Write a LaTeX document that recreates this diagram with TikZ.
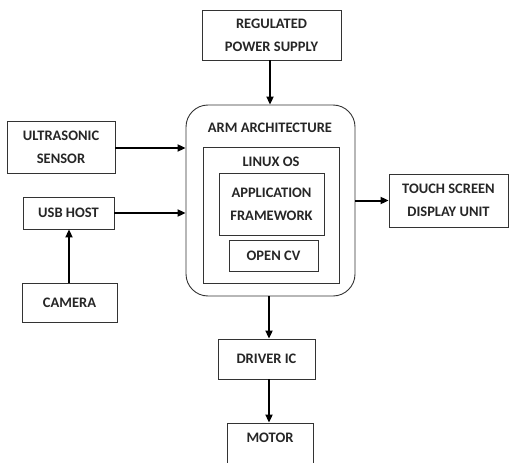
\documentclass[tikz,border=0pt]{standalone}
\usepackage{fontspec}
\setmainfont{Carlito}
\usetikzlibrary{arrows.meta}
\begin{document}
\begin{tikzpicture}[x=1pt,y=-1pt,
  box/.style={draw=black!80,line width=0.9pt,inner sep=0pt,align=center,
    font=\bfseries\fontsize{14.5}{23}\selectfont,text=black!85},
  lbl/.style={inner sep=0pt,font=\bfseries\fontsize{14.5}{23}\selectfont,text=black!85},
  arr/.style={line width=2pt,-{Triangle[length=8pt,width=7pt]}}]
\useasboundingbox (0,0) rectangle (510,462);
\clip (0,0) rectangle (510,462);

% supply and processor
\node[box,minimum width=139,minimum height=50] (power) at (271.5,35) {REGULATED\\POWER SUPPLY};
\node[box,minimum width=169,minimum height=191,rounded corners=22pt] (arm) at (270.5,200.5) {};
\node[lbl] (armlbl) at (270,128) {ARM ARCHITECTURE};
\node[box,minimum width=136,minimum height=136] (linux) at (271,215) {};
\node[lbl] (linuxlbl) at (271,162) {LINUX OS};
\node[box,minimum width=105,minimum height=62] (app) at (271.5,204) {APPLICATION\\FRAMEWORK};
\node[box,minimum width=89,minimum height=31] (cv) at (273.5,255.5) {OPEN CV};

% peripherals
\node[box,minimum width=119,minimum height=53] (touch) at (448.5,200.5) {TOUCH SCREEN\\DISPLAY UNIT};
\node[box,minimum width=108,minimum height=52] (ultra) at (61,147) {ULTRASONIC\\SENSOR};
\node[box,minimum width=91,minimum height=32] (usb) at (68.5,213) {USB HOST};
\node[box,minimum width=95,minimum height=39] (camera) at (69.5,302.5) {CAMERA};
\node[box,minimum width=97,minimum height=40] (driver) at (266.5,359) {DRIVER IC};
\node[box,minimum width=86,minimum height=52] (motor) at (270,449) {};
\node[lbl] (motorlbl) at (270,438) {MOTOR};

% connections
\draw[arr] (power.south -| 270,0) -- (arm.north -| 270,0);
\draw[arr] (ultra.east |- 0,148) -- (arm.west |- 0,148);
\draw[arr] (usb.east) -- (arm.west |- usb.east);
\draw[arr] (camera.north -| 69,0) -- (usb.south -| 69,0);
\draw[arr] (arm.east |- touch.west) -- (touch.west);
\draw[arr] (arm.south -| 269,0) -- (driver.north -| 269,0);
\draw[arr] (driver.south -| 269,0) -- (motor.north -| 269,0);
\end{tikzpicture}
\end{document}
